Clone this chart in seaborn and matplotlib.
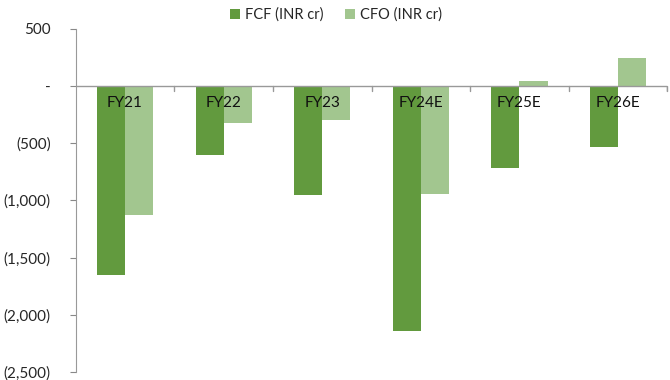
import numpy as np
import pandas as pd
import seaborn as sns
import matplotlib.pyplot as plt
from matplotlib.ticker import FuncFormatter

years = ["FY21", "FY22", "FY23", "FY24E", "FY25E", "FY26E"]
fcf = [-1650, -600, -950, -2140, -715, -535]
cfo = [-1130, -325, -300, -945, 45, 245]
series_names = ["FCF (INR cr)", "CFO (INR cr)"]

df = pd.DataFrame({
    "year": years * 2,
    "value": fcf + cfo,
    "series": [series_names[0]] * len(years) + [series_names[1]] * len(years),
})

sns.set_style("white")
plt.rcParams["font.family"] = ["Lato", "DejaVu Sans"]

fig = plt.figure(figsize=(6.7, 3.8), dpi=100)
ax = fig.add_axes([0.113, 0.021, 0.883, 0.903])

sns.barplot(data=df, x="year", y="value", hue="series", order=years,
            hue_order=series_names, palette=["#629a3e", "#a2c68f"],
            width=0.57, saturation=1, linewidth=0, ax=ax, legend=True)

ax.set_ylim(-2500, 500)
ax.set_yticks(np.arange(-2500, 501, 500))


def fmt(v, pos):
    if v == 0:
        return "-"
    if v < 0:
        return "({:,.0f})".format(-v)
    return "{:,.0f}".format(v)


ax.yaxis.set_major_formatter(FuncFormatter(fmt))
ax.tick_params(axis="y", labelsize=11, length=4, color="#888888", left=True, pad=14)
ax.set_xlabel("")
ax.set_ylabel("")

# category labels sit just under the zero line
ax.set_xticks([])
for i, y in enumerate(years):
    ax.text(i, -85, y, ha="center", va="top", fontsize=11, color="#111111")

ax.set_xlim(-0.5, len(years) - 0.5)
ax.axhline(0, color="#999999", lw=1)
for x in np.arange(0.5, len(years), 1.0):
    ax.plot([x, x], [0, -45], color="#999999", lw=1)
ax.plot([len(years) - 0.5] * 2, [0, -45], color="#999999", lw=1, clip_on=False)

for s in ["top", "right", "bottom"]:
    ax.spines[s].set_visible(False)
ax.spines["left"].set_color("#999999")

ax.legend(loc="upper center", bbox_to_anchor=(0.44, 1.1), ncol=2, frameon=False,
          fontsize=10.5, handlelength=0.7, handleheight=0.7, handletextpad=0.3,
          columnspacing=1.5)

fig.savefig("out.png", dpi=100)
